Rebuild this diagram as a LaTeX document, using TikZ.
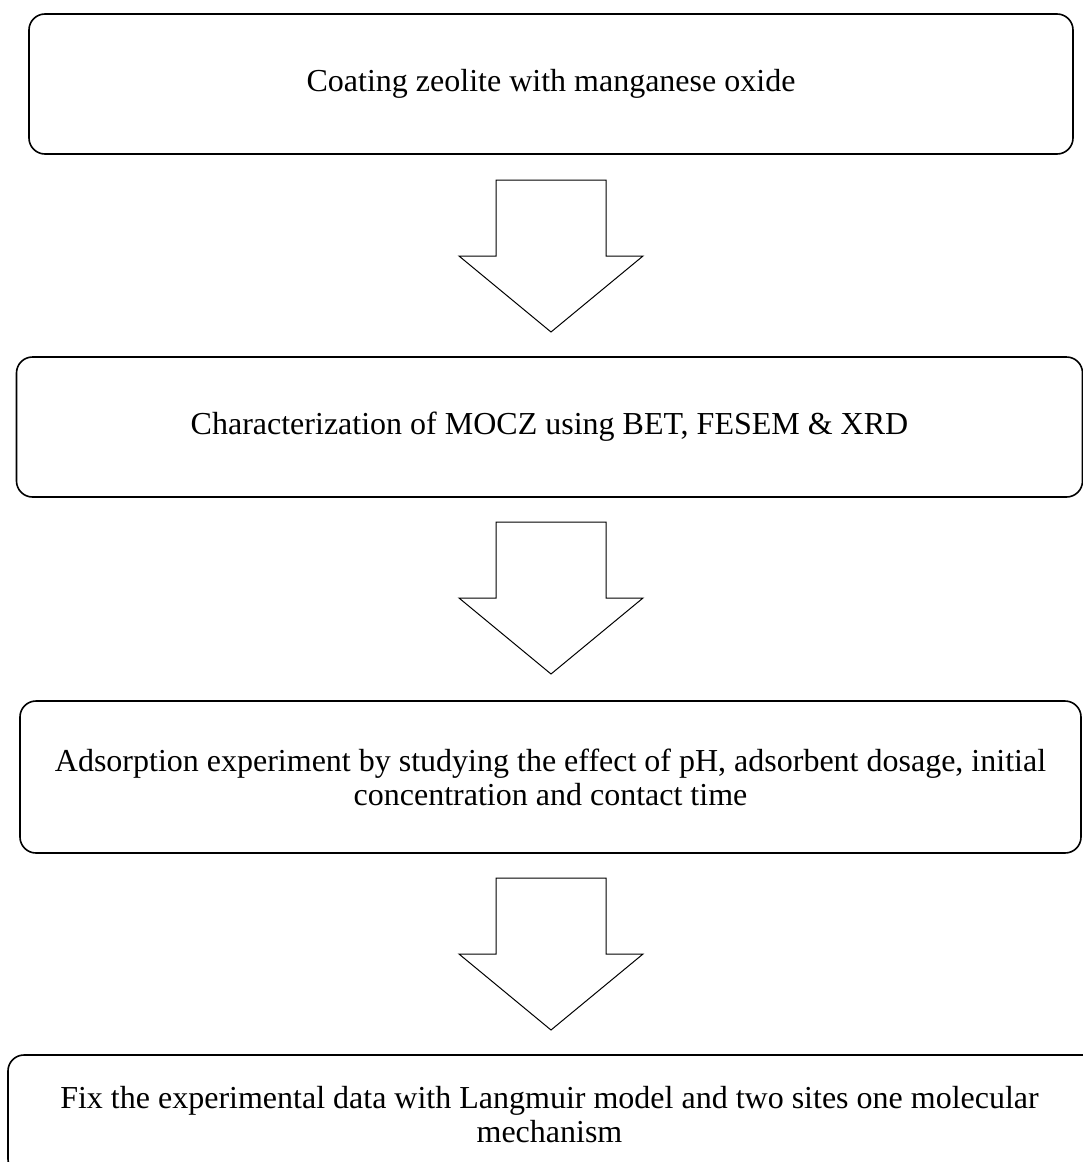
\documentclass[tikz,border=0pt]{standalone}
\usepackage{fontspec}
\setmainfont{Liberation Serif}
\begin{document}
\begin{tikzpicture}[x=1pt,y=-1pt,
  flowbox/.style={draw=black, line width=1.6pt, rounded corners=16pt, fill=white,
    align=center, inner sep=0pt, font=\fontsize{32}{34}\selectfont},
  downarrow/.pic={
    \draw[line width=1pt, line join=miter, fill=white]
      (-55,0) -- (55,0) -- (55,76) -- (92,76) -- (0,152) -- (-92,76) -- (-55,76) -- cycle;
  }]
\useasboundingbox (0,0) rectangle (1083,1162);
\clip (0,0) rectangle (1083,1162);
\fill[white] (0,0) rectangle (1083,1162);
\node[flowbox, minimum width=1044pt, minimum height=140pt] (b1) at (551,84)
  {\raisebox{-3pt}{Coating zeolite with manganese oxide}};
\node[flowbox, minimum width=1066pt, minimum height=140pt] (b2) at (549.5,427)
  {\raisebox{-2pt}{Characterization of MOCZ using BET, FESEM \& XRD}};
\node[flowbox, minimum width=1061pt, minimum height=152pt] (b3) at (550.5,777)
  {Adsorption experiment by studying the effect of pH, adsorbent dosage, initial\\concentration and contact time};
\node[flowbox, minimum width=1092pt, minimum height=120pt] (b4) at (554,1115)
  {Fix the experimental data with Langmuir model and two sites one molecular\hspace*{9pt}\\mechanism\hspace*{9pt}};
\coordinate (a1) at (551,180);
\coordinate (a2) at (551,522);
\coordinate (a3) at (551,878);
\pic at (a1) {downarrow};
\pic at (a2) {downarrow};
\pic at (a3) {downarrow};
\end{tikzpicture}
\end{document}
